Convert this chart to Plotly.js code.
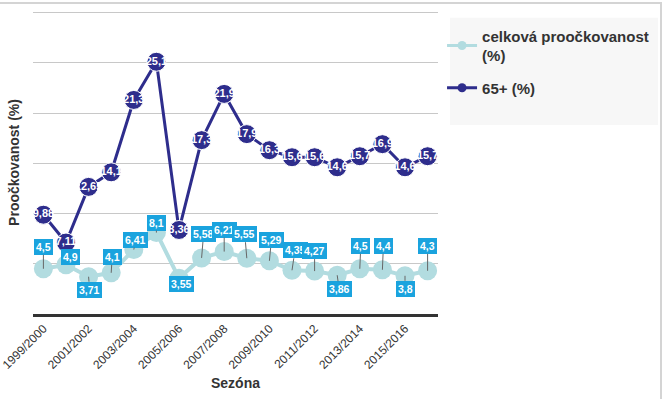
<!DOCTYPE html>
<html>
<head>
<meta charset="utf-8">
<script src="https://cdn.plot.ly/plotly-3.0.1.min.js"></script>
<style>
  html, body { margin: 0; padding: 0; background: #fff; }
  #frame { position: absolute; left: 0; top: 2px; width: 662px; height: 397px;
           border-top: 2px solid #d4d4d4; border-right: 2px solid #d4d4d4; box-sizing: border-box; }
  #chart { position: absolute; left: 0; top: 0; width: 665px; height: 399px; }
</style>
</head>
<body>
<div id="frame"></div>
<div id="chart"></div>
<script>
// ---- data ----
const seasons = ["1999/2000","2000/2001","2001/2002","2002/2003","2003/2004","2004/2005",
  "2005/2006","2006/2007","2007/2008","2008/2009","2009/2010","2010/2011","2011/2012",
  "2012/2013","2013/2014","2014/2015","2015/2016","2016/2017"];
const tickSeasons = ["1999/2000","2001/2002","2003/2004","2005/2006","2007/2008",
  "2009/2010","2011/2012","2013/2014","2015/2016"];
const celkova = [4.5, 4.9, 3.71, 4.1, 6.41, 8.1, 3.55, 5.58, 6.21, 5.55, 5.29, 4.35, 4.27, 3.86, 4.5, 4.4, 3.8, 4.3];
const senior65 = [9.88, 7.11, 12.65, 14.1, 21.3, 25.1, 8.36, 17.3, 21.9, 17.9, 16.3, 15.6, 15.6, 14.6, 15.7, 16.9, 14.6, 15.7];
const nameCelkova = "celková proočkovanost<br>(%)";
const name65 = "65+ (%)";

// ---- label offsets (layout only, pixels) ----
const labelDy = [-22, -8, 13, -16, -10, -10, 6, -24, -22, -24, -21, -20, -20, 14, -23, -24, 13, -25];
const labelDx = [0, 4, 1, 1, 2, 0, 2, 2, 0, -2, 2, 3, 0, 2, 1, 1, 0, 0];

const fmt = v => String(v).replace('.', ',');
const FONT = "Arial, 'Liberation Sans', sans-serif";
const C_LIGHT = '#b2dce0';
const C_DARK = '#2e2d8c';

const traces = [
  {
    x: seasons, y: celkova, name: nameCelkova, showlegend: false, type: 'scatter', mode: 'lines+markers',
    line: { color: C_LIGHT, width: 4 },
    marker: { color: C_LIGHT, size: 19 },
    hoverinfo: 'x+y'
  },
  {
    x: seasons, y: senior65, name: name65, showlegend: false, type: 'scatter', mode: 'lines+markers+text',
    text: senior65.map(fmt), textposition: 'middle center',
    textfont: { color: '#ffffff', size: 11, family: FONT, weight: 'bold' },
    line: { color: C_DARK, width: 3 },
    marker: { color: C_DARK, size: 19, line: { color: '#ffffff', width: 1 } },
    hoverinfo: 'x+y'
  },
  // legend entries (carry no visible points)
  {
    x: [seasons[0]], y: [null], name: nameCelkova, legendgroup: 'a', type: 'scatter', mode: 'lines+markers',
    line: { color: C_LIGHT, width: 3 }, marker: { color: C_LIGHT, size: 9 }, hoverinfo: 'skip'
  },
  {
    x: [seasons[0]], y: [null], name: name65, legendgroup: 'b', type: 'scatter', mode: 'lines+markers',
    line: { color: C_DARK, width: 3 }, marker: { color: C_DARK, size: 9 }, hoverinfo: 'skip'
  }
];

const annotations = celkova.map((v, i) => ({
  x: seasons[i], y: v, xref: 'x', yref: 'y',
  text: '<b>' + fmt(v) + '</b>',
  showarrow: true, arrowhead: 0, arrowwidth: 1, arrowcolor: '#666666',
  ax: labelDx[i], ay: labelDy[i], standoff: 0,
  bgcolor: '#1aa3de', borderpad: 2, borderwidth: 0,
  font: { color: '#ffffff', size: 10.5, family: FONT }
}));

const layout = {
  width: 665, height: 399,
  margin: { l: 33, r: 227, t: 11, b: 85 },
  paper_bgcolor: 'rgba(0,0,0,0)', plot_bgcolor: '#ffffff',
  font: { family: FONT, color: '#333333' },
  showlegend: true,
  legend: {
    x: 1.01, y: 0.972, xanchor: 'left', yanchor: 'top',
    bgcolor: 'rgba(0,0,0,0)', borderwidth: 0,
    font: { size: 15, color: '#333333', family: FONT, weight: 'bold' },
    itemwidth: 30, traceorder: 'grouped', tracegroupgap: 10
  },
  shapes: [{
    type: 'rect', xref: 'paper', yref: 'paper', layer: 'below',
    x0: 1.0296, x1: 1.543, y0: 0.624, y1: 0.978,
    fillcolor: '#f7f7f7', line: { width: 0 }
  }],
  xaxis: {
    type: 'category', range: [-0.46, 17.46],
    tickmode: 'array', tickvals: tickSeasons, ticktext: tickSeasons,
    tickangle: -45, tickfont: { size: 12, color: '#333333' },
    showgrid: false, zeroline: false,
    showline: true, linecolor: '#333333', linewidth: 3, ticks: '',
    title: { text: '<b>Sezóna</b>', font: { size: 14, color: '#333333' }, standoff: 8 },
    fixedrange: true
  },
  yaxis: {
    range: [0, 30.15], tickvals: [5, 10, 15, 20, 25, 30], showticklabels: false, ticks: '',
    showgrid: true, gridcolor: '#c8c8c8', gridwidth: 1, zeroline: false, showline: false,
    title: { text: '<b>Proočkovanost (%)</b>', font: { size: 14, color: '#333333' }, standoff: 9 },
    fixedrange: true
  },
  annotations: annotations
};

Plotly.newPlot('chart', traces, layout, { displayModeBar: false, staticPlot: true });
</script>
</body>
</html>
